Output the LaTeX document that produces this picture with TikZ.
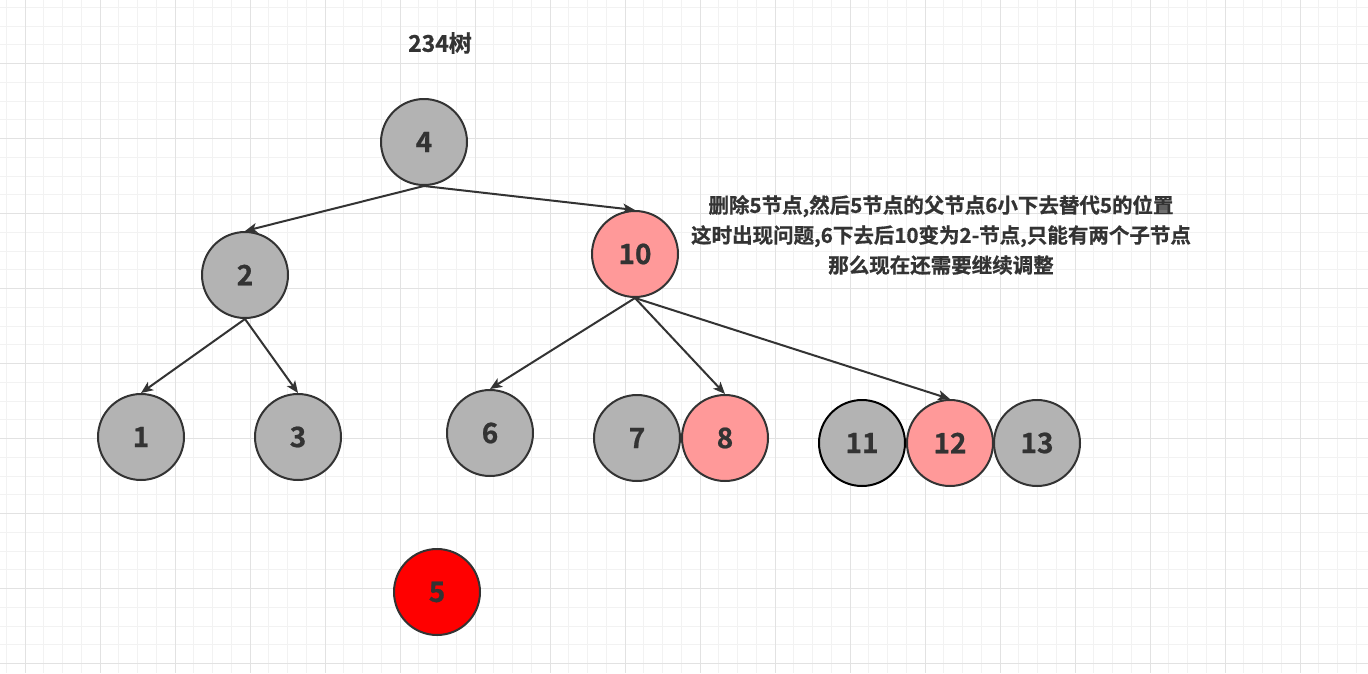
\documentclass[tikz,border=0pt]{standalone}
\usepackage{fontspec}
\setmainfont{Noto Sans CJK SC}[BoldFont={Noto Sans CJK SC Bold},BoldFeatures={FakeBold=0.8}]
\usetikzlibrary{arrows.meta}
\definecolor{txt}{HTML}{333333}
\definecolor{gfill}{HTML}{B3B3B3}
\definecolor{pfill}{HTML}{FF9999}
\definecolor{rfill}{HTML}{FF0000}
\definecolor{gminor}{HTML}{F2F2F2}
\definecolor{gmajor}{HTML}{E2E2E2}
\begin{document}
\begin{tikzpicture}[x=1pt,y=-1pt,
  nd/.style={circle,draw=txt,line width=2pt,minimum size=86pt,inner sep=0pt,
    font=\fontsize{28}{32}\selectfont\bfseries,text=txt},
  gnode/.style={nd,fill=gfill},
  pnode/.style={nd,fill=pfill},
  rnode/.style={nd,fill=rfill},
  conn/.style={draw=txt,line width=2pt,-{Stealth[length=12pt,width=10pt,inset=3pt]}},
  lbl/.style={text=txt,align=center,inner sep=0pt}]
\useasboundingbox (0,0) rectangle (1368,673);
\fill[white] (0,0) rectangle (1368,673);
% grid
\foreach \i in {0,...,72} {\draw[gminor,line width=1pt] ({6.25+18.75*\i},0) -- ({6.25+18.75*\i},673);}
\foreach \i in {0,...,35} {\draw[gminor,line width=1pt] (0,{7.25+18.75*\i}) -- (1368,{7.25+18.75*\i});}
\foreach \i in {0,...,18} {\draw[gmajor,line width=1pt] ({25+75*\i},0) -- ({25+75*\i},673);}
\foreach \i in {0,...,8} {\draw[gmajor,line width=1pt] (0,{63.5+75*\i}) -- (1368,{63.5+75*\i});}
% title
\node[lbl,font=\fontsize{23}{28}\selectfont\bfseries] (title) at (440,43) {234树};
% nodes
\node[gnode] (n4) at (424,142) {4};
\node[gnode] (n2) at (245,275) {2};
\node[pnode] (n10) at (635,254) {10};
\node[gnode] (n1) at (141,437) {1};
\node[gnode] (n3) at (298,437) {3};
\node[gnode] (n6) at (490,433) {6};
\node[gnode] (n7) at (637,438) {7};
\node[pnode] (n8) at (725,438) {8};
\node[gnode,draw=black] (n11) at (862,443) {11};
\node[pnode] (n12) at (950,443) {12};
\node[gnode] (n13) at (1037,443) {13};
\node[rnode] (n5) at (437,592) {5};
% edges
\draw[conn] (n4.south) -- (n2.north);
\draw[conn] (n4.south) -- (n10.north);
\draw[conn] (n2.south) -- (n1.north);
\draw[conn] (n2.south) -- (n3.north);
\draw[conn] (n10.south) -- (n6.north);
\draw[conn] (n10.south) -- (n8.north);
\draw[conn] (n10.south) -- (n12.north);
% note
\node[lbl,font=\fontsize{20.5}{30}\selectfont\bfseries] (note) at (941,235)
  {删除5节点,然后5节点的父节点6小下去替代5的位置\\这时出现问题,6下去后10变为2-节点,只能有两个子节点\\那么现在还需要继续调整};
\end{tikzpicture}
\end{document}
